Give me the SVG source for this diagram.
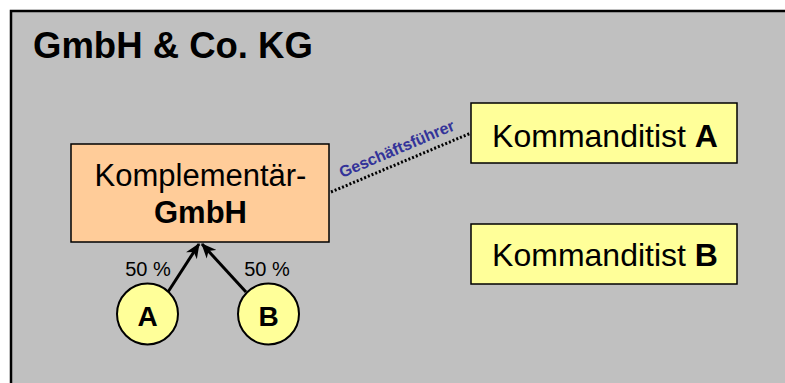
<svg xmlns="http://www.w3.org/2000/svg" width="785" height="383" viewBox="0 0 785 383">
<defs>
<style>
text{font-family:"Liberation Sans",Arial,sans-serif;fill:#000}
.box{stroke:#000;stroke-width:1.5}
.big{font-size:31px;text-anchor:middle}
.kd{font-size:32px;text-anchor:middle}
.b{font-weight:bold}
.pct{font-size:20px;text-anchor:middle}
.conn{stroke:#000;stroke-width:3;fill:none}
</style>
<marker id="arr" viewBox="0 0 14 12" refX="13" refY="6" markerWidth="15" markerHeight="13" orient="auto" markerUnits="userSpaceOnUse">
<path d="M0,0 L14,6 L0,12 L4,6 Z" fill="#000"/>
</marker>
</defs>
<rect x="11" y="11" width="800" height="400" fill="#C0C0C0" stroke="#000" stroke-width="2.5"/>
<text x="33" y="58" font-size="36.5" class="b">GmbH &amp; Co. KG</text>
<g id="connectors">
<line class="conn" x1="168" y1="292" x2="199" y2="244" marker-end="url(#arr)"/>
<line class="conn" x1="246" y1="292" x2="202" y2="244" marker-end="url(#arr)"/>
<line x1="331" y1="192" x2="471" y2="133" stroke="#000" stroke-width="3" stroke-dasharray="2 2"/>
<text transform="translate(342,178) rotate(-23)" font-size="16" font-weight="bold" style="fill:#333399">Geschäftsführer</text>
<text x="148" y="276" class="pct">50 %</text>
<text x="267" y="276" class="pct">50 %</text>
</g>
<g id="komplementaer">
<rect class="box" x="71" y="144" width="258" height="98" fill="#FFCC99"/>
<text x="200.5" y="186" class="big">Komplementär-</text>
<text x="200.5" y="223" class="big b">GmbH</text>
</g>
<g id="kommanditistA">
<rect class="box" x="471" y="103" width="266" height="60" fill="#FFFF99"/>
<text x="605" y="147" class="kd">Kommanditist <tspan class="b">A</tspan></text>
</g>
<g id="kommanditistB">
<rect class="box" x="471" y="224" width="266" height="60" fill="#FFFF99"/>
<text x="605" y="266" class="kd">Kommanditist <tspan class="b">B</tspan></text>
</g>
<g id="gesellschafterA">
<circle cx="147.5" cy="314" r="30.5" fill="#FFFF99" stroke="#000" stroke-width="2"/>
<text x="147.5" y="326" font-size="28" class="b" text-anchor="middle">A</text>
</g>
<g id="gesellschafterB">
<circle cx="268.5" cy="314" r="30.5" fill="#FFFF99" stroke="#000" stroke-width="2"/>
<text x="268.5" y="326" font-size="28" class="b" text-anchor="middle">B</text>
</g>
</svg>
